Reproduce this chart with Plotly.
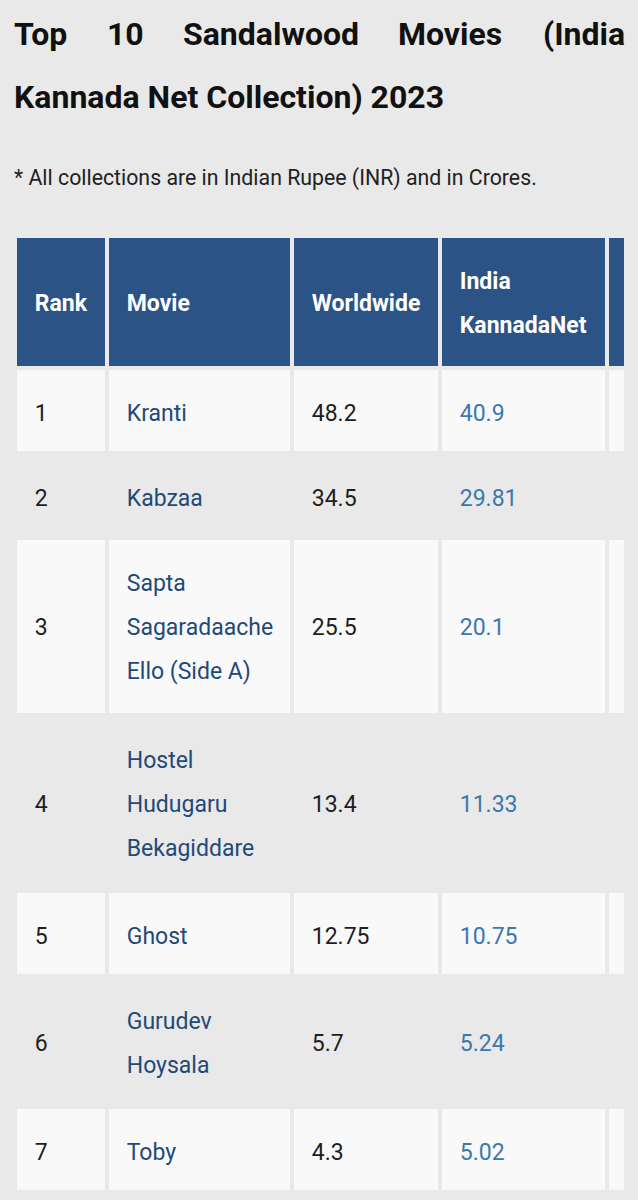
import plotly.graph_objects as go

# colours
page_bg = "#e9e9e9"
row_bg = "#f9f9f9"
head_bg = "#2b5385"
ink = "#1e1e1e"
movie_blue = "#1f4a77"
net_blue = "#3a78b0"

# text
title_words = ["Top", "10", "Sandalwood", "Movies", "(India"]
title_line2 = "Kannada Net Collection) 2023"
note = "* All collections are in Indian Rupee (INR) and in Crores."

# table data
headers = [["Rank"], ["Movie"], ["Worldwide"], ["India", "KannadaNet"], []]
ranks = ["1", "2", "3", "4", "5", "6", "7"]
movies = [["Kranti"], ["Kabzaa"], ["Sapta", "Sagaradaache", "Ello (Side A)"],
          ["Hostel", "Hudugaru", "Bekagiddare"], ["Ghost"], ["Gurudev", "Hoysala"], ["Toby"]]
worldwide = ["48.2", "34.5", "25.5", "13.4", "12.75", "5.7", "4.3"]
india_net = ["40.9", "29.81", "20.1", "11.33", "10.75", "5.24", "5.02"]

# plotly tables put text at the top of a cell; tiny lines ("struts") with the
# line spacing of the cell font push the real text down to the middle
TEXT_PX = 23
STRUT = '<span style="font-size:1px">&nbsp;</span>'
INDENT = '<span style="font-size:23px">&#8194;</span>'
PAD = 8
STEP = 22            # line step of the cell font (1.3 em)
CELL_FONT = STEP / 1.3
SIZER_STEP = 22.8
SIZER_FONT = SIZER_STEP / 1.3


def stack(lines, pitch, bold=False):
    if not lines:
        return ""
    k = len(lines)
    m = max(1, round((pitch / 2 - 1.43) / STEP - (k - 1)))
    out = [STRUT] * m
    for i, t in enumerate(lines):
        if bold:
            t = "<b>" + t + "</b>"
        if i:
            out.append(STRUT)
        out.append(INDENT + '<span style="font-size:%dpx">' % TEXT_PX + t + "</span>")
    return "<br>".join(out)


def sizer(pitch):
    # invisible column on the right that makes tall rows tall enough
    if pitch <= 85:
        return ""
    n = max(1, round((pitch - 2 * PAD - 1.17) / SIZER_STEP))
    return "<br>".join([STRUT] * (n + 1))


row_lines = [max(len(m), 1) for m in movies]
row_pitch = [85 + 46 * (n - 1) for n in row_lines]
head_pitch = 132

columns = [[[r] for r in ranks], movies, [[w] for w in worldwide], [[v] for v in india_net]]

cell_text = [[stack(c, p) for c, p in zip(col, row_pitch)] for col in columns]
cell_text.append([sizer(p) for p in row_pitch])

head_text = [stack(h, head_pitch, bold=True) for h in headers]

fills = [[row_bg if i % 2 == 0 else page_bg for i in range(len(ranks))] for _ in range(5)]

fig = go.Figure(go.Table(
    domain=dict(x=[15 / 638, 626 / 638], y=[0, 1 - 236 / 1200]),
    columnwidth=[92, 185, 148, 166.5, 19.5],
    header=dict(values=head_text, height=head_pitch, align="left",
                fill=dict(color=head_bg), line=dict(color=page_bg, width=4),
                font=dict(family="Roboto", color="white", size=CELL_FONT)),
    cells=dict(values=cell_text, height=85, align="left",
               fill=dict(color=fills), line=dict(color=page_bg, width=4),
               font=dict(family="Roboto", color=[ink, movie_blue, ink, net_blue, ink],
                         size=[CELL_FONT] * 4 + [SIZER_FONT])),
))

title_x = [12, 105, 181, 396]
for w, x in zip(title_words[:-1], title_x):
    fig.add_annotation(text="<b>" + w + "</b>", x=x / 638, y=1 - 34 / 1200, xanchor="left")
fig.add_annotation(text="<b>" + title_words[-1] + "</b>", x=627 / 638, y=1 - 34 / 1200, xanchor="right")
fig.add_annotation(text="<b>" + title_line2 + "</b>", x=12 / 638, y=1 - 97 / 1200, xanchor="left")
fig.update_annotations(xref="paper", yref="paper", yanchor="middle", showarrow=False,
                       font=dict(family="Roboto", size=32, color="#111111"))
fig.add_annotation(text=note, x=12 / 638, y=1 - 177.5 / 1200, xref="paper", yref="paper",
                   xanchor="left", yanchor="middle", showarrow=False,
                   font=dict(family="Roboto", size=21.3, color="#222222"))

fig.update_layout(width=638, height=1200, margin=dict(l=0, r=0, t=0, b=0),
                  paper_bgcolor=page_bg, plot_bgcolor=page_bg)

# the page itself has a default 8px body margin; drop it so the figure fills the window
fig.write_html("out.html", config={"displayModeBar": False},
               post_script="document.body.style.margin='0';document.body.style.background='%s';" % page_bg)
